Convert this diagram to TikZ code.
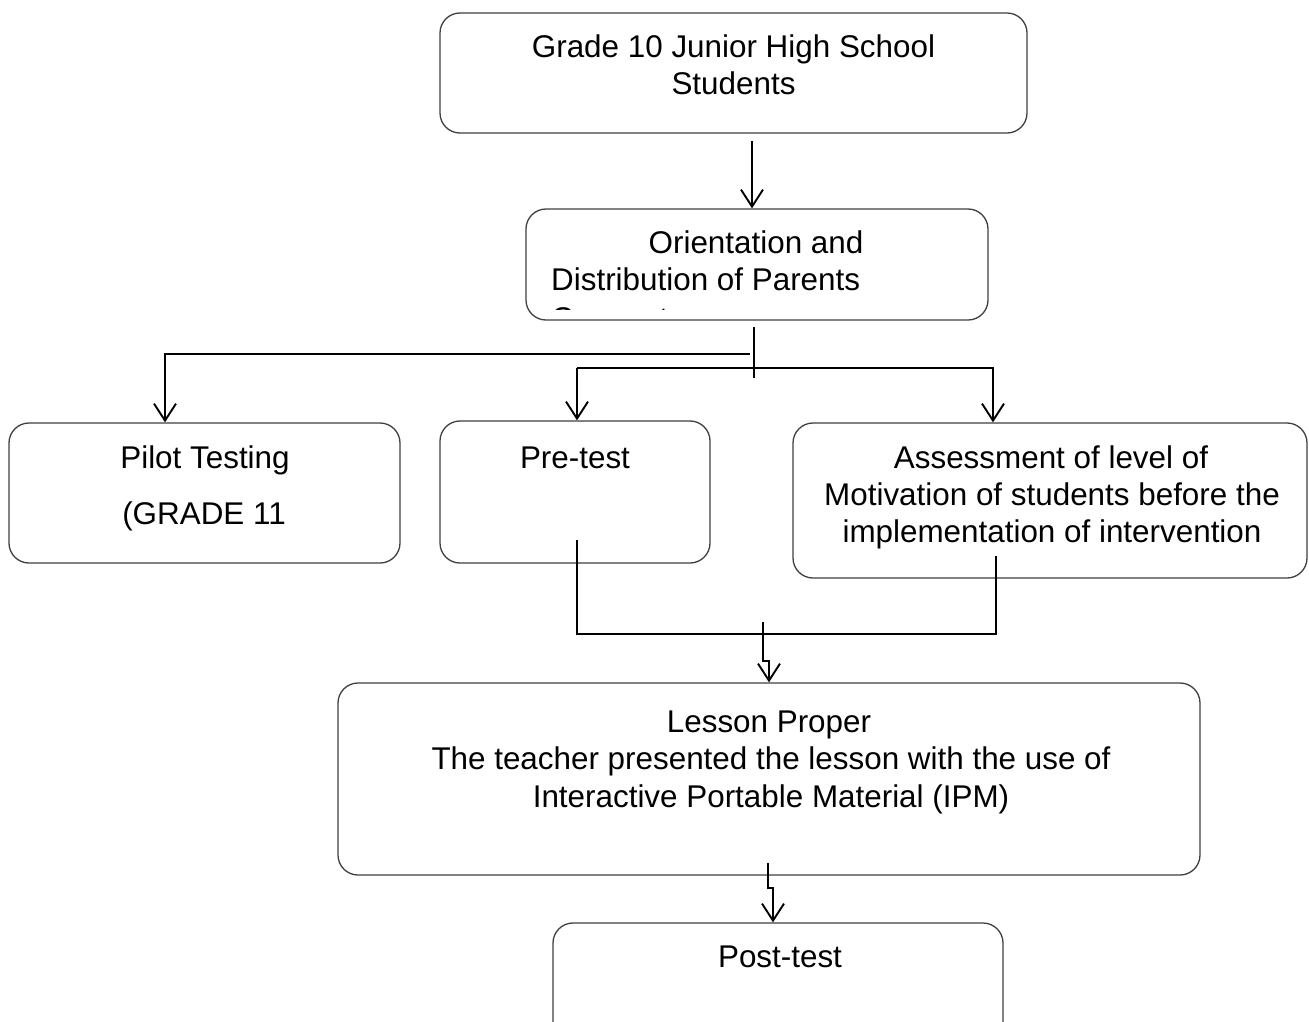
\documentclass[tikz,border=0pt]{standalone}
\usepackage{fontspec}
\setmainfont{Liberation Sans}
\usetikzlibrary{arrows.meta}
\begin{document}
\begin{tikzpicture}[x=1pt,y=-1pt,
  box/.style={draw=black!75, line width=1.3pt, rounded corners=20pt, inner sep=0pt, fill=none},
  conn/.style={draw=black, line width=1.3pt},
  arr/.style={draw=black, line width=1.9pt, -{Straight Barb[length=17pt,width=22pt]}},
  txt/.style={inner sep=0pt, anchor=base, font=\fontsize{31.4pt}{37pt}\selectfont}]
\useasboundingbox (0,0) rectangle (1309,1021);
\fill[white] (0,0) rectangle (1309,1021);

% boxes
\node[box, minimum width=587pt, minimum height=120pt] (b1) at (733.5,73) {};
\node[box, minimum width=462pt, minimum height=111pt] (b2) at (757,264.5) {};
\node[box, minimum width=391pt, minimum height=140pt] (pilot) at (204.5,493) {};
\node[box, minimum width=270pt, minimum height=142pt] (pre) at (575,492) {};
\node[box, minimum width=514pt, minimum height=155pt] (assess) at (1050,500.5) {};
\node[box, minimum width=862pt, minimum height=192pt] (lesson) at (769,779) {};
\node[box, minimum width=450pt, minimum height=120pt] (post) at (778,983) {};

% texts
\node[txt] (t1a) at (733.5,57) {Grade 10 Junior High School};
\node[txt] (t1b) at (733.5,94) {Students};
\node[txt] (t2a) at (756,253) {Orientation and};
\node[txt, anchor=base west] (t2b) at (551,290) {Distribution of Parents};
\begin{scope}
  \clip (526,209) rectangle (988,309);
  \node[txt, anchor=base west] (t2c) at (551,329) {Consent};
\end{scope}
\node[txt] (tp1) at (205,468) {Pilot Testing};
\node[txt] (tp2) at (204,524) {(GRADE 11};
\node[txt] (tpre) at (575,468) {Pre-test};
\node[txt] (ta1) at (1051,468) {Assessment of level of};
\node[txt] (ta2) at (1052,505) {Motivation of students before the};
\node[txt] (ta3) at (1052,542) {implementation of intervention};
\node[txt] (tl1) at (769,732) {Lesson Proper};
\node[txt] (tl2) at (771,769) {The teacher presented the lesson with the use of};
\node[txt] (tl3) at (771,807) {Interactive Portable Material (IPM)};
\node[txt] (tpost) at (780,967) {Post-test};

% connectors
\coordinate (a1s) at (752,141);
\draw[arr] (a1s) -- (a1s |- b2.north);

\coordinate (j0) at (754,327);
\coordinate (j1) at (754,378);
\draw[conn] (j0) -- (j1);

\coordinate (h1) at (750,354);
\coordinate (hp) at (165,354);
\draw[arr, line join=miter] (h1) -- (hp) -- (hp |- pilot.north);

\coordinate (h2l) at (577,368);
\coordinate (h2r) at (993,368);
\draw[arr, line join=miter] (h2l) -- (h2r) -- (h2r |- assess.north);
\draw[arr] (h2l) -- (h2l |- pre.north);

\coordinate (pb) at (577,540);
\coordinate (bl) at (577,634);
\coordinate (br) at (996,634);
\coordinate (ab) at (996,556);
\draw[conn, line join=miter] (pb) -- (bl) -- (br) -- (ab);

\coordinate (z1) at (763,622);
\coordinate (z1a) at (763,661);
\coordinate (z1b) at (769,661);
\draw[arr, line join=miter] (z1) -- (z1a) -- (z1b) -- (z1b |- lesson.north);

\coordinate (z2) at (768,863);
\coordinate (z2a) at (768,888);
\coordinate (z2b) at (773,888);
\draw[arr, line join=miter] (z2) -- (z2a) -- (z2b) -- (z2b |- post.north);
\end{tikzpicture}
\end{document}
